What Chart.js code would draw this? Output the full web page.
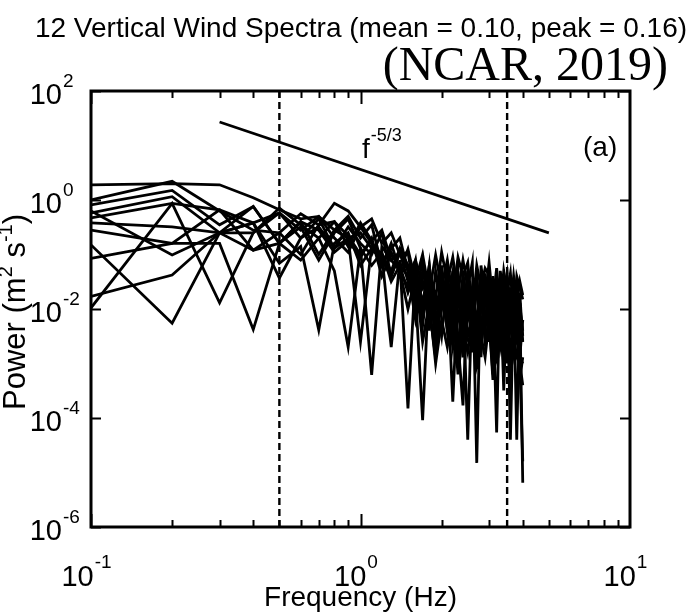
<!DOCTYPE html>
<html><head><meta charset="utf-8">
<script src="https://cdn.jsdelivr.net/npm/chart.js@4.4.1/dist/chart.umd.min.js"></script>
<style>html,body{margin:0;padding:0;background:#fff}#wrap{width:699px;height:613px;position:relative}</style>
</head><body><div id="wrap"><canvas id="c" width="699" height="613"></canvas></div>
<script>
// ---- data ----
const frequencies = [0.1,0.2,0.3,0.4,0.5,0.6,0.7,0.8,0.9,1.0,1.1,1.2,1.3,1.4,1.5,1.6,1.7,1.8,1.9,2.0,
  2.1,2.2,2.3,2.4,2.5,2.6,2.7,2.8,2.9,3.0,3.1,3.2,3.3,3.4,3.5,3.6,3.7,3.8,3.9,4.0];
const spectrum1 = [1.9,2.0,1.9,1.1,0.66,0.45,0.5,0.28,0.2,0.25,0.13,0.08,0.11,0.05,
  0.025,0.079,0.005,0.05,0.0025,0.063,0.0079,0.04,0.0013,0.05,0.0063,0.025,0.002,0.04,0.004,0.05,0.00079,0.032,0.0032,0.04,0.0016,0.025,0.005,0.032,0.0013,0.0063];
const spectrum2 = [1.0,2.2,0.63,0.28,0.25,0.56,0.35,0.87,0.63,0.32,0.45,0.16,0.25,0.1,
  0.11,0.016,0.079,0.004,0.05,0.01,0.056,0.0025,0.04,0.0063,0.05,0.0016,0.032,0.01,0.045,0.0025,0.04,0.005,0.025,0.001,0.035,0.004,0.028,0.0063,0.02,0.0025];
const spectrum3 = [0.81,1.5,0.35,0.76,0.16,0.4,0.1,0.28,0.5,0.2,0.35,0.063,0.13,0.2,
  0.05,0.0063,0.032,0.01,0.0013,0.025,0.004,0.02,0.001,0.016,0.0032,0.0079,0.0016,0.02,0.0025,0.0063,0.00063,0.013,0.002,0.005,0.001,0.01,0.0016,0.004,0.0005,0.0013];
const spectrum4 = [0.58,1.15,0.25,0.38,0.58,0.2,0.45,0.13,0.32,0.16,0.1,0.25,0.04,0.11,
  0.063,0.01,0.05,0.025,0.0032,0.04,0.013,0.002,0.032,0.005,0.045,0.0079,0.00079,0.025,0.004,0.035,0.0063,0.0013,0.02,0.0032,0.032,0.00063,0.016,0.0025,0.01,0.004];
const spectrum5 = [0.47,0.87,0.66,0.12,0.25,0.1,0.35,0.4,0.14,0.38,0.18,0.28,0.079,0.11,
  0.032,0.056,0.0079,0.045,0.016,0.0032,0.035,0.01,0.05,0.0025,0.025,0.005,0.04,0.0013,0.028,0.0079,0.02,0.0032,0.035,0.00032,0.016,0.005,0.025,0.00004,0.013,0.0032];
const spectrum6 = [0.38,0.32,0.25,0.76,0.16,0.32,0.079,0.25,0.45,0.13,0.00062,0.14,0.079,0.05,
  0.01,0.04,0.0025,0.013,0.001,0.0063,0.002,0.01,0.00063,0.004,0.0016,0.0079,0.001,0.0032,0.0013,0.0063,0.0005,0.0025,0.004,0.001,0.002,0.00063,0.0032,0.0013,0.001,0.0004];
const spectrum7 = [0.63,0.098,0.25,0.25,0.58,0.28,0.5,0.2,0.11,0.32,0.16,0.1,0.002,0.079,
  0.00015,0.05,0.013,0.063,0.005,0.035,0.01,0.045,0.0025,0.00017,0.025,0.0063,0.032,0.004,0.02,0.0079,0.0016,0.025,0.005,0.016,0.0025,0.02,0.004,0.0063,0.0013,0.001];
const spectrum8 = [0.085,0.16,0.66,0.38,0.069,0.14,0.0041,0.16,0.25,0.063,0.13,0.079,0.04,0.11,
  0.05,0.02,0.000091,0.04,0.01,0.032,0.004,0.05,0.0063,0.02,0.00004,0.025,0.0032,0.032,0.005,0.022,0.002,0.025,0.0063,0.018,0.0032,0.02,0.0016,0.016,0.004,0.0025];
const spectrum9 = [0.017,0.042,0.25,0.12,0.16,0.079,0.2,0.05,0.002,0.13,0.063,0.11,0.032,0.063,
  0.04,0.079,0.025,0.05,0.016,0.11,0.032,0.089,0.02,0.079,0.025,0.071,0.000015,0.063,0.016,0.071,0.013,0.056,0.01,0.05,0.02,0.045,0.0079,0.04,0.025,0.015];
const spectrum10 = [0.0105,0.87,0.013,0.25,0.71,0.35,0.2,0.4,0.22,0.1,0.18,0.063,0.16,0.05,
  0.126,0.032,0.1,0.02,0.098,0.025,0.079,0.016,0.089,0.04,0.071,0.01,0.063,0.025,0.056,0.042,0.013,0.000054,0.05,0.02,0.045,0.01,0.04,0.013,0.032,0.018];
const spectrum11 = [0.28,0.16,0.16,0.0042,0.16,0.4,0.28,0.11,0.18,0.089,0.2,0.04,0.1,0.063,
  0.02,0.05,0.0063,0.063,0.0025,0.016,0.04,0.004,0.025,0.0013,0.032,0.0079,0.045,0.002,0.02,0.005,0.032,0.001,0.025,0.0063,0.035,0.00004,0.018,0.0032,0.013,0.0000065];
const spectrum12 = [0.15,0.0055,0.25,0.38,0.037,0.2,0.32,0.13,0.2,0.0025,0.14,0.1,0.05,0.13,
  0.063,0.035,0.013,0.02,0.004,0.01,0.028,0.0002,0.022,0.005,0.028,0.0025,0.0079,0.02,0.0032,0.005,0.016,0.0013,0.0025,0.011,0.0016,0.0089,0.004,0.0063,0.001,0.000016];
const spectra = [spectrum1,spectrum2,spectrum3,spectrum4,spectrum5,spectrum6,spectrum7,spectrum8,spectrum9,spectrum10,spectrum11,spectrum12];
const slopeLineFreq = [0.3, 5];
const slopeLinePower = [27, 0.25];
const cutoffFreqs = [0.5, 3.5];
const xRange = [0.1, 10];
const yRange = [1e-6, 1e2];
const xTickExponents = ['-1','0','1'];
const yTickExponents = ['2','0','-2','-4','-6'];
const titleText = '12 Vertical Wind Spectra (mean = 0.10, peak = 0.16)';
const sourceText = '(NCAR, 2019)';
const panelText = '(a)';

// ---- build datasets ----
const datasets = spectra.map((s, i) => ({
  label: 'Spectrum ' + (i + 1),
  data: frequencies.map((f, j) => ({x: f, y: s[j]})),
  borderColor: '#000', borderWidth: 2.8, pointRadius: 0, tension: 0, fill: false
}));
datasets.push({
  label: 'f^-5/3',
  data: slopeLineFreq.map((f, j) => ({x: f, y: slopeLinePower[j]})),
  borderColor: '#000', borderWidth: 2.8, pointRadius: 0, fill: false
});
cutoffFreqs.forEach(f => datasets.push({
  label: 'cutoff ' + f,
  data: [{x: f, y: yRange[0]}, {x: f, y: yRange[1]}],
  borderColor: '#000', borderWidth: 2.4, borderDash: [7, 4], pointRadius: 0, fill: false
}));

const SANS = "'Liberation Sans', Arial, Helvetica, sans-serif";
const SERIF = "'Liberation Serif', 'Times New Roman', serif";

function powLabel(ctx, base, exp, x, y, bSize, eSize, align, eRaise) {
  ctx.font = bSize + 'px ' + SANS;
  const bw = ctx.measureText(base).width;
  ctx.font = eSize + 'px ' + SANS;
  const ew = ctx.measureText(exp).width;
  let x0 = x;
  if (align === 'center') x0 = x - (bw + ew) / 2;
  else if (align === 'baseRight') x0 = x - bw;
  ctx.textAlign = 'left'; ctx.textBaseline = 'alphabetic';
  ctx.font = bSize + 'px ' + SANS;
  ctx.fillText(base, x0, y);
  ctx.font = eSize + 'px ' + SANS;
  ctx.fillText(exp, x0 + bw + 1, y - eRaise);
}

const framePlugin = {
  id: 'frame',
  afterDatasetsDraw(chart) {
    const ctx = chart.ctx, a = chart.chartArea;
    const xs = chart.scales.x, ys = chart.scales.y;
    ctx.save();
    ctx.fillStyle = '#000'; ctx.strokeStyle = '#000';
    ctx.lineWidth = 3;
    ctx.strokeRect(a.left, a.top, a.right - a.left, a.bottom - a.top);
    ctx.lineWidth = 2;
    for (let d = xRange[0]; d < xRange[1] * 0.99; d *= 10) {
      for (let m = 1; m <= 9; m++) {
        const v = m * d;
        const px = Math.round(xs.getPixelForValue(v)) + 0.5;
        const len = (m === 1) ? 13 : 7;
        ctx.beginPath();
        ctx.moveTo(px, a.bottom); ctx.lineTo(px, a.bottom - len);
        ctx.moveTo(px, a.top); ctx.lineTo(px, a.top + len);
        ctx.stroke();
      }
    }
    yTickExponents.forEach(e => {
      const py = Math.round(ys.getPixelForValue(Math.pow(10, +e))) + 0.5;
      ctx.beginPath();
      ctx.moveTo(a.left, py); ctx.lineTo(a.left + 10, py);
      ctx.moveTo(a.right, py); ctx.lineTo(a.right - 10, py);
      ctx.stroke();
    });
    yTickExponents.forEach(e => {
      const py = ys.getPixelForValue(Math.pow(10, +e));
      powLabel(ctx, '10', e, 62, py + 13, 29, 19, 'baseRight', 17);
    });
    xTickExponents.forEach(e => {
      const px = xs.getPixelForValue(Math.pow(10, +e));
      powLabel(ctx, '10', e, px - 5, 586, 29, 19, 'center', 18);
    });
    ctx.font = '28px ' + SANS; ctx.textAlign = 'center'; ctx.textBaseline = 'alphabetic';
    ctx.fillText('Frequency (Hz)', (a.left + a.right) / 2, 606);
    ctx.save();
    ctx.translate(25, 312); ctx.rotate(-Math.PI / 2);
    const parts = [['Power (m', 31, 0], ['2', 20, 13], [' s', 31, 0], ['-1', 20, 13], [')', 31, 0]];
    let tw = 0;
    parts.forEach(p => { ctx.font = p[1] + 'px ' + SANS; tw += ctx.measureText(p[0]).width; });
    let cx = -tw / 2;
    ctx.textAlign = 'left';
    parts.forEach(p => { ctx.font = p[1] + 'px ' + SANS; ctx.fillText(p[0], cx, -p[2]); cx += ctx.measureText(p[0]).width; });
    ctx.restore();
    powLabel(ctx, 'f', '-5/3', 362, 158, 28, 18, 'left', 17);
    ctx.font = '28px ' + SANS; ctx.textAlign = 'left';
    ctx.fillText(panelText, 583, 156);
    ctx.textAlign = 'center';
    ctx.font = '28px ' + SANS;
    ctx.fillText(titleText, 361, 37);
    ctx.textAlign = 'right';
    ctx.font = '48px ' + SERIF;
    ctx.fillText(sourceText, 668, 80);
    ctx.restore();
  }
};

new Chart(document.getElementById('c'), {
  type: 'line',
  data: { datasets },
  options: {
    responsive: false, animation: false, devicePixelRatio: 1,
    layout: { padding: { left: 91, top: 91, right: 69, bottom: 86 } },
    plugins: { legend: { display: false }, tooltip: { enabled: false }, title: { display: false } },
    scales: {
      x: { type: 'logarithmic', min: xRange[0], max: xRange[1], display: false },
      y: { type: 'logarithmic', min: yRange[0], max: yRange[1], display: false }
    }
  },
  plugins: [framePlugin]
});
</script></body></html>
